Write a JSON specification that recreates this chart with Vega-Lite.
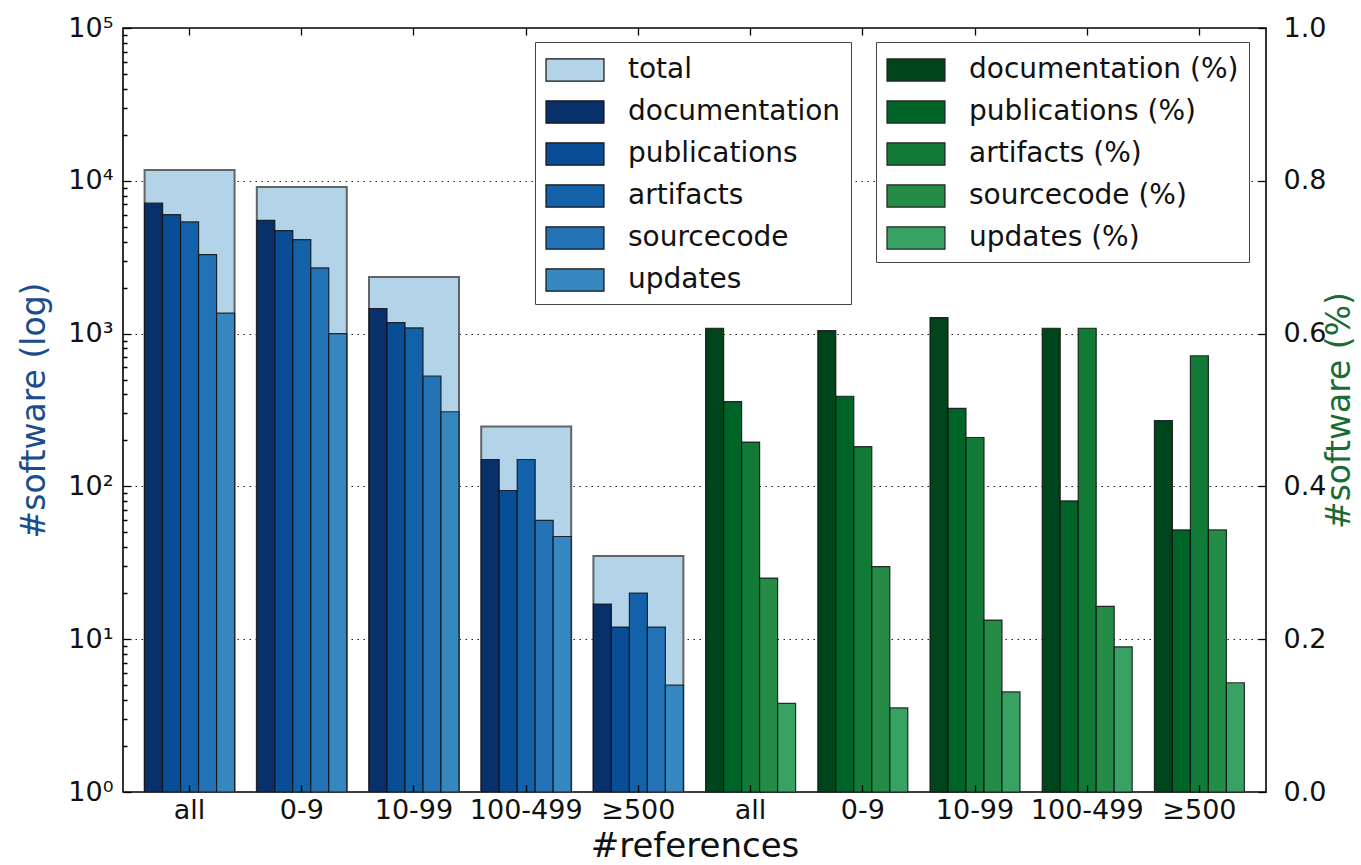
{
  "$schema": "https://vega.github.io/schema/vega-lite/v6.json",
  "width": 1143,
  "height": 764,
  "autosize": {"type": "none"},
  "padding": {"left": 123, "top": 28, "right": 95, "bottom": 73},
  "background": "white",
  "config": {
    "view": {"stroke": "#000", "strokeWidth": 1.6},
    "font": "DejaVu Sans",
    "axis": {
      "domain": false,
      "tickColor": "#000",
      "tickWidth": 1.3,
      "labelFont": "DejaVu Sans",
      "labelFontSize": 27,
      "labelColor": "#111",
      "titleFont": "DejaVu Sans",
      "titleFontWeight": "normal",
      "titleColor": "#111",
      "grid": false
    },
    "legend": {
      "labelFont": "DejaVu Sans",
      "labelFontSize": 28,
      "labelColor": "#111",
      "labelLimit": 500
    }
  },
  "data": {
    "values": [
      {"panel": "count", "ref": "all", "metric": "total", "value": 11750},
      {"panel": "count", "ref": "all", "metric": "documentation", "value": 7137},
      {"panel": "count", "ref": "all", "metric": "publications", "value": 6006},
      {"panel": "count", "ref": "all", "metric": "artifacts", "value": 5380},
      {"panel": "count", "ref": "all", "metric": "sourcecode", "value": 3290},
      {"panel": "count", "ref": "all", "metric": "updates", "value": 1360},
      {"panel": "count", "ref": "0-9", "metric": "total", "value": 9120},
      {"panel": "count", "ref": "0-9", "metric": "documentation", "value": 5510},
      {"panel": "count", "ref": "0-9", "metric": "publications", "value": 4720},
      {"panel": "count", "ref": "0-9", "metric": "artifacts", "value": 4120},
      {"panel": "count", "ref": "0-9", "metric": "sourcecode", "value": 2690},
      {"panel": "count", "ref": "0-9", "metric": "updates", "value": 1000},
      {"panel": "count", "ref": "10-99", "metric": "total", "value": 2350},
      {"panel": "count", "ref": "10-99", "metric": "documentation", "value": 1460},
      {"panel": "count", "ref": "10-99", "metric": "publications", "value": 1180},
      {"panel": "count", "ref": "10-99", "metric": "artifacts", "value": 1090},
      {"panel": "count", "ref": "10-99", "metric": "sourcecode", "value": 528},
      {"panel": "count", "ref": "10-99", "metric": "updates", "value": 308},
      {"panel": "count", "ref": "100-499", "metric": "total", "value": 247},
      {"panel": "count", "ref": "100-499", "metric": "documentation", "value": 150},
      {"panel": "count", "ref": "100-499", "metric": "publications", "value": 94},
      {"panel": "count", "ref": "100-499", "metric": "artifacts", "value": 150},
      {"panel": "count", "ref": "100-499", "metric": "sourcecode", "value": 60},
      {"panel": "count", "ref": "100-499", "metric": "updates", "value": 47},
      {"panel": "count", "ref": "≥500", "metric": "total", "value": 35},
      {"panel": "count", "ref": "≥500", "metric": "documentation", "value": 17},
      {"panel": "count", "ref": "≥500", "metric": "publications", "value": 12},
      {"panel": "count", "ref": "≥500", "metric": "artifacts", "value": 20},
      {"panel": "count", "ref": "≥500", "metric": "sourcecode", "value": 12},
      {"panel": "count", "ref": "≥500", "metric": "updates", "value": 5},
      {"panel": "share", "ref": "all ", "metric": "documentation", "value": 0.607},
      {"panel": "share", "ref": "all ", "metric": "publications", "value": 0.511},
      {"panel": "share", "ref": "all ", "metric": "artifacts", "value": 0.458},
      {"panel": "share", "ref": "all ", "metric": "sourcecode", "value": 0.280},
      {"panel": "share", "ref": "all ", "metric": "updates", "value": 0.116},
      {"panel": "share", "ref": "0-9 ", "metric": "documentation", "value": 0.604},
      {"panel": "share", "ref": "0-9 ", "metric": "publications", "value": 0.518},
      {"panel": "share", "ref": "0-9 ", "metric": "artifacts", "value": 0.452},
      {"panel": "share", "ref": "0-9 ", "metric": "sourcecode", "value": 0.295},
      {"panel": "share", "ref": "0-9 ", "metric": "updates", "value": 0.110},
      {"panel": "share", "ref": "10-99 ", "metric": "documentation", "value": 0.621},
      {"panel": "share", "ref": "10-99 ", "metric": "publications", "value": 0.502},
      {"panel": "share", "ref": "10-99 ", "metric": "artifacts", "value": 0.464},
      {"panel": "share", "ref": "10-99 ", "metric": "sourcecode", "value": 0.225},
      {"panel": "share", "ref": "10-99 ", "metric": "updates", "value": 0.131},
      {"panel": "share", "ref": "100-499 ", "metric": "documentation", "value": 0.607},
      {"panel": "share", "ref": "100-499 ", "metric": "publications", "value": 0.381},
      {"panel": "share", "ref": "100-499 ", "metric": "artifacts", "value": 0.607},
      {"panel": "share", "ref": "100-499 ", "metric": "sourcecode", "value": 0.243},
      {"panel": "share", "ref": "100-499 ", "metric": "updates", "value": 0.190},
      {"panel": "share", "ref": "≥500 ", "metric": "documentation", "value": 0.486},
      {"panel": "share", "ref": "≥500 ", "metric": "publications", "value": 0.343},
      {"panel": "share", "ref": "≥500 ", "metric": "artifacts", "value": 0.571},
      {"panel": "share", "ref": "≥500 ", "metric": "sourcecode", "value": 0.343},
      {"panel": "share", "ref": "≥500 ", "metric": "updates", "value": 0.143}
    ]
  },
  "layer": [
    {
      "encoding": {
        "x": {
          "field": "ref",
          "type": "nominal",
          "sort": ["all", "0-9", "10-99", "100-499", "≥500", "all ", "0-9 ", "10-99 ", "100-499 ", "≥500 "],
          "scale": {"paddingInner": 0.198, "paddingOuter": 0.1925, "align": 0.5},
          "axis": {
            "orient": "bottom",
            "zindex": 1,
            "offset": -7,
            "labelAngle": 0,
            "labelExpr": "trim(datum.label)",
            "tickSize": 7,
            "labelPadding": 5,
            "title": "#references",
            "titleFontSize": 34,
            "titlePadding": 6
          }
        },
        "y": {
          "field": "value",
          "type": "quantitative",
          "scale": {"type": "log", "domain": [1, 100000], "nice": false},
          "axis": {
            "orient": "left",
            "offset": -8,
            "title": "#software (log)",
            "titleColor": "#1b4d8e",
            "titleFontSize": 33,
            "titlePadding": 16,
            "values": [1,2,3,4,5,6,7,8,9,10,20,30,40,50,60,70,80,90,100,200,300,400,500,600,700,800,900,1000,2000,3000,4000,5000,6000,7000,8000,9000,10000,20000,30000,40000,50000,60000,70000,80000,90000,100000],
            "labelExpr": "datum.value == 1 ? '10⁰' : datum.value == 10 ? '10¹' : datum.value == 100 ? '10²' : datum.value == 1000 ? '10³' : datum.value == 10000 ? '10⁴' : datum.value == 100000 ? '10⁵' : ''",
            "labelOverlap": false,
            "labelBound": false,
            "labelPadding": 10,
            "tickSize": 8,
            "tickDash": {"condition": {"test": "indexof([1,10,100,1000,10000,100000], datum.value) < 0", "value": [0, 4, 4, 100]}, "value": [100, 0]},
            "grid": true,
            "gridColor": "#222",
            "gridDash": [1.5, 4.5],
            "gridWidth": 1.2,
            "gridOpacity": {"condition": {"test": "indexof([10,100,1000,10000], datum.value) >= 0", "value": 1}, "value": 0}
          }
        }
      },
      "layer": [
        {
          "transform": [{"filter": "datum.panel == 'count' && datum.metric == 'total'"}],
          "mark": {"type": "bar", "stroke": "#555", "strokeWidth": 2, "strokeOpacity": 0.9},
          "encoding": {
            "y2": {"datum": 1},
            "color": {
              "field": "metric",
              "type": "nominal",
              "scale": {
                "domain": ["total", "documentation", "publications", "artifacts", "sourcecode", "updates"],
                "range": ["#b3d3e8", "#08306b", "#084d96", "#1361a9", "#2372b6", "#3686c0"]
              },
              "legend": {
                "orient": "none",
                "legendX": 412,
                "legendY": 14,
                "title": null,
                "fillColor": "white",
                "strokeColor": "#444",
                "padding": 10,
                "cornerRadius": 0,
                "symbolType": "M-1,-0.65H2.41V0.65H-1Z",
                "symbolSize": 1156,
                "symbolStrokeColor": "#222",
                "symbolStrokeWidth": 1.2,
                "symbolOpacity": 1,
                "labelOffset": 47,
                "rowPadding": 10
              }
            }
          }
        },
        {
          "transform": [{"filter": "datum.panel == 'count' && datum.metric != 'total'"}],
          "mark": {"type": "bar", "stroke": "#111", "strokeWidth": 1.2, "strokeOpacity": 0.85},
          "encoding": {
            "y2": {"datum": 1},
            "xOffset": {
              "field": "metric",
              "type": "nominal",
              "sort": ["documentation", "publications", "artifacts", "sourcecode", "updates"],
              "scale": {"paddingInner": 0, "paddingOuter": 0}
            },
            "color": {"field": "metric", "type": "nominal"}
          }
        }
      ]
    },
    {
      "transform": [{"filter": "datum.panel == 'share'"}],
      "mark": {"type": "bar", "stroke": "#111", "strokeWidth": 1.2, "strokeOpacity": 0.85},
      "encoding": {
        "x": {
          "field": "ref",
          "type": "nominal",
          "sort": ["all", "0-9", "10-99", "100-499", "≥500", "all ", "0-9 ", "10-99 ", "100-499 ", "≥500 "],
          "axis": {"orient": "top", "labels": false, "title": null, "offset": -7, "tickSize": 7}
        },
        "xOffset": {
          "field": "metric",
          "type": "nominal",
          "sort": ["documentation", "publications", "artifacts", "sourcecode", "updates"],
          "scale": {"paddingInner": 0, "paddingOuter": 0}
        },
        "y": {
          "field": "value",
          "type": "quantitative",
          "scale": {"domain": [0, 1], "nice": false},
          "axis": {
            "orient": "right",
            "offset": -8,
            "title": "#software (%)",
            "titleColor": "#1a6b34",
            "titleFontSize": 33,
            "titleAngle": 270,
            "titleBaseline": "top",
            "titlePadding": -2,
            "values": [0, 0.2, 0.4, 0.6, 0.8, 1.0],
            "format": ".1f",
            "tickSize": 8,
            "labelPadding": 17,
            "labelBound": false,
            "labelOverlap": false,
            "grid": false
          }
        },
        "color": {
          "field": "metric",
          "type": "nominal",
          "scale": {
            "domain": ["documentation", "publications", "artifacts", "sourcecode", "updates"],
            "range": ["#00441b", "#006328", "#117a37", "#258c47", "#38a264"]
          },
          "legend": {
            "orient": "none",
            "legendX": 753,
            "legendY": 14,
            "title": null,
            "labelExpr": "datum.label + ' (%)'",
            "fillColor": "white",
            "strokeColor": "#444",
            "padding": 10,
            "cornerRadius": 0,
            "symbolType": "M-1,-0.65H2.41V0.65H-1Z",
            "symbolSize": 1156,
            "symbolStrokeColor": "#222",
            "symbolStrokeWidth": 1.2,
            "symbolOpacity": 1,
            "labelOffset": 47,
            "rowPadding": 10
          }
        }
      }
    }
  ],
  "resolve": {
    "scale": {"y": "independent", "color": "independent"},
    "axis": {"x": "independent", "y": "independent"}
  }
}
